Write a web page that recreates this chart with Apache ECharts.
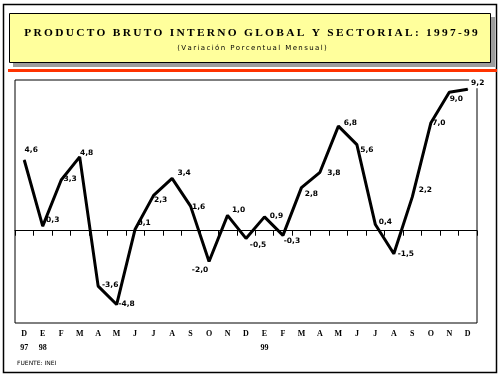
<!DOCTYPE html>
<html>
<head>
<meta charset="utf-8">
<script src="https://cdn.jsdelivr.net/npm/echarts@6/dist/echarts.min.js"></script>
<style>
  html, body { margin: 0; padding: 0; background: #fff; }
  #chart { width: 499px; height: 377px; }
</style>
</head>
<body>
<div id="chart"></div>
<script>
// meses dic-97 .. dic-99
var months = ['D','E','F','M','A','M','J','J','A','S','O','N','D','E','F','M','A','M','J','J','A','S','O','N','D'];
var years = ['97','98','','','','','','','','','','','','99','','','','','','','','','','',''];
// PBI global, variacion porcentual mensual
var pbiVariation = [4.6, 0.3, 3.3, 4.8, -3.6, -4.8, 0.1, 2.3, 3.4, 1.6, -2.0, 1.0, -0.5, 0.9, -0.3, 2.8, 3.8, 6.8, 5.6, 0.4, -1.5, 2.2, 7.0, 9.0, 9.2];
// desplazamiento de cada etiqueta respecto a su punto
var labelOffsets = [[7,-10],[10,-6],[9,-1],[7,-4],[12,-1],[10,0],[9,-6],[7,5],[12,-5],[8,1],[-9,9],[11,-5],[12,7],[12,-1],[9,6],[10,6],[14,1],[12,-3],[10,5],[10,-3],[12,0],[13,-7],[8,0],[7,7],[10,-6]];

function spaced(str) {
    return str.split('').join('\u2009');
}

var chart = echarts.init(document.getElementById('chart'));

var seriesData = pbiVariation.map(function (v, i) {
    var lbl = { offset: labelOffsets[i] };
    // la ultima etiqueta tapa el borde superior del recuadro
    if (i === pbiVariation.length - 1) {
        lbl.backgroundColor = '#fff';
        lbl.padding = [1, 2];
    }
    return { value: v, label: lbl };
});

chart.setOption({
    animation: false,
    backgroundColor: '#fff',
    graphic: [
        // marco exterior
        { type: 'rect', shape: { x: 3.5, y: 4.5, width: 493, height: 368 }, style: { fill: 'none', stroke: '#000', lineWidth: 1.5 } },
        // sombra y caja del titulo
        { type: 'rect', shape: { x: 13, y: 17, width: 482, height: 50 }, style: { fill: '#9c9c9c' } },
        { type: 'rect', shape: { x: 9.5, y: 13.5, width: 481, height: 49 }, style: { fill: '#ffff9c', stroke: '#000', lineWidth: 1 } },
        { type: 'text', x: 251, y: 33, style: {
            text: spaced('PRODUCTO BRUTO INTERNO GLOBAL Y SECTORIAL: 1997-99'),
            font: 'bold 11.4px "Liberation Serif"', fill: '#000', align: 'center', verticalAlign: 'middle'
        } },
        { type: 'text', x: 252, y: 48, style: {
            text: spaced('(Variación Porcentual Mensual)'),
            font: '7px "DejaVu Sans"', fill: '#000', align: 'center', verticalAlign: 'middle'
        } },
        // linea roja
        { type: 'rect', shape: { x: 8, y: 69, width: 489, height: 3 }, style: { fill: '#ff3300' } },
        // fuente
        { type: 'text', x: 17, y: 363, style: {
            text: 'FUENTE: INEI', font: '6px "DejaVu Sans"', fill: '#000', verticalAlign: 'middle'
        } }
    ],
    grid: {
        left: 15,
        right: 22,
        top: 80,
        bottom: 54,
        show: true,
        borderColor: '#000',
        borderWidth: 1,
        backgroundColor: 'transparent'
    },
    xAxis: [
        {
            type: 'category',
            data: months,
            boundaryGap: true,
            axisLine: { onZero: true, lineStyle: { color: '#000', width: 1 } },
            axisTick: { show: true, length: 5, interval: 0, lineStyle: { color: '#000' } },
            axisLabel: { show: false },
            splitLine: { show: false }
        },
        {
            type: 'category',
            data: months,
            position: 'bottom',
            boundaryGap: true,
            axisLine: { show: false, onZero: false },
            axisTick: { show: false },
            axisLabel: {
                interval: 0,
                margin: 4,
                color: '#000',
                fontFamily: 'Liberation Serif',
                fontWeight: 'bold',
                fontSize: 8,
                lineHeight: 14,
                formatter: function (val, idx) {
                    return val + '\n' + years[idx];
                }
            }
        }
    ],
    yAxis: {
        type: 'value',
        min: -6,
        max: 9.8,
        show: false
    },
    series: [
        {
            type: 'line',
            xAxisIndex: 0,
            data: seriesData,
            symbol: 'circle',
            symbolSize: 1,
            showSymbol: true,
            itemStyle: { color: '#000' },
            lineStyle: { color: '#000', width: 3 },
            label: {
                show: true,
                position: 'inside',
                color: '#000',
                fontFamily: 'DejaVu Sans',
                fontWeight: 'bold',
                fontSize: 7.5,
                formatter: function (p) {
                    return p.value.toFixed(1).replace('.', ',');
                }
            }
        }
    ]
});
</script>
</body>
</html>
